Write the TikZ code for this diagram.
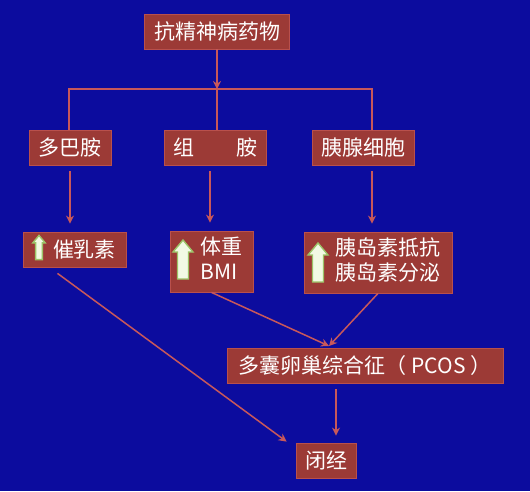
\documentclass[tikz,border=0pt]{standalone}
\usepackage{fontspec}
\usepackage{tikz}
\usetikzlibrary{arrows.meta,positioning}
\setmainfont{Noto Sans CJK SC}
\definecolor{bg}{HTML}{0C0C9E}
\definecolor{boxred}{HTML}{9C3A36}
\definecolor{edge}{HTML}{B9504C}
\definecolor{link}{HTML}{C8585A}
\definecolor{paleg}{HTML}{F2FAE4}
\definecolor{greenrim}{HTML}{9CC468}

\tikzset{greenup/.pic={
  \draw[greenrim, fill=paleg, line width=1.4pt, line join=miter]
    (-5.5,19.5) -- (-5.5,-7.5) -- (-10,-7.5) -- (0,-19.5) -- (10,-7.5) -- (5.5,-7.5) -- (5.5,19.5) -- cycle;
}}

\begin{document}
\begin{tikzpicture}[x=1pt, y=-1pt, every node/.style={font=\fontsize{21}{25}\selectfont, text=white},
  box/.style={draw=edge, line width=0.8pt, fill=boxred, inner sep=0pt, align=left},
  arr/.style={-{Stealth[length=8pt,width=8pt]}, line width=1.5pt, link},
  wire/.style={line width=1.5pt, link}]
\useasboundingbox (0,0) rectangle (530,491);
\fill[bg] (0,0) rectangle (530,491);
% top
\node[box, minimum width=145pt, minimum height=35pt] (drug) at (217,31.5) {抗精神病药物};
\coordinate (fork) at (217,89);
% targets
\node[box, minimum width=82pt, minimum height=35pt] (dopa) at (70,147.5) {多巴胺};
\node[box, minimum width=102pt, minimum height=35pt] (hist) at (215.5,147.5) {组\hspace{2em}胺};
\node[box, minimum width=102pt, minimum height=35pt] (panc) at (363,147.5) {胰腺细胞};
% effects
\node[box, minimum width=103pt, minimum height=35pt] (prl) at (74.5,249.5) {\hspace{20pt}催乳素};
\node[box, minimum width=83pt, minimum height=61pt] (bmi) at (211.5,261.5) {\hspace{20pt}\begin{tabular}{@{}l@{}}体重\\BMI\end{tabular}};
\node[box, minimum width=148pt, minimum height=61pt] (ins) at (378,262.5) {\hspace{20pt}\begin{tabular}{@{}l@{}}胰岛素抵抗\\胰岛素分泌\end{tabular}};
\pic[scale=0.62] at (39,247.5) {greenup};
\pic at (183,259.5) {greenup};
\pic at (318,262.5) {greenup};
% outcome
\node[box, minimum width=276pt, minimum height=35pt] (pcos) at (365,365.5) {多囊卵巢综合征（ PCOS ）};
\node[box, minimum width=60pt, minimum height=35pt] (amen) at (326,460.5) {闭经};
\coordinate (join) at (329,346);
% connectors
\draw[arr] (drug.south) -- (fork);
\draw[wire] ([xshift=-1pt]dopa.north) |- (fork) -| ([xshift=9pt]panc.north);
\draw[wire] (fork) -- (fork |- hist.north);
\draw[arr, shorten <=6pt, shorten >=8pt] (dopa.south) -- (dopa.south |- prl.north);
\draw[arr, shorten <=6pt, shorten >=8pt] ([xshift=-1.5pt]bmi.north |- hist.south) -- ([xshift=-1.5pt]bmi.north);
\draw[arr, shorten <=6pt, shorten >=8pt] ([xshift=9pt]panc.south) -- ([xshift=9pt]panc.south |- ins.north);
\draw[arr] ([xshift=-17pt,yshift=-6pt]prl.south) -- ([xshift=-9pt,yshift=1pt]amen.north west);
\draw[arr] (bmi.south) -- (join);
\draw[arr] (ins.south) -- (join);
\draw[arr, shorten <=6pt, shorten >=7pt] ([xshift=-29pt]pcos.south) -- ([xshift=-29pt]pcos.south |- amen.north);
\end{tikzpicture}
\end{document}
